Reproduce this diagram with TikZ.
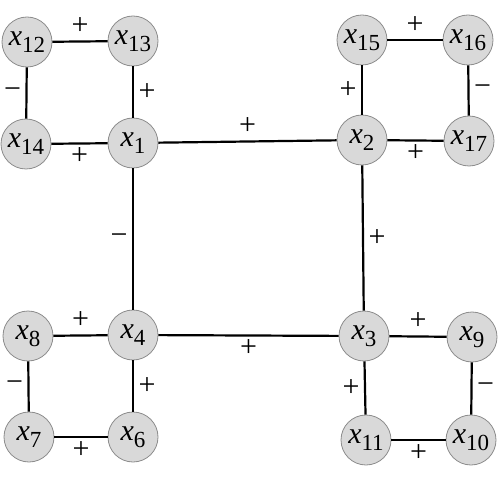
\documentclass[tikz,border=0pt]{standalone}
\usepackage{fontspec}
\setmainfont{Liberation Serif}
\definecolor{nodefill}{RGB}{217,217,217}
\definecolor{nodedraw}{RGB}{140,140,140}
\newcommand{\xv}[1]{\textit{x}\raisebox{-7pt}{\fontsize{23}{23}\selectfont #1}}
\tikzset{
  var/.style={circle, draw=nodedraw, line width=0.8pt, fill=nodefill, minimum size=50pt, inner sep=0pt, font=\fontsize{30}{30}\selectfont},
  link/.style={line width=2.2pt, black},
  lab/.style={font=\fontsize{30}{30}\selectfont, inner sep=0pt, midway},
  labA/.style={lab, yshift=15pt},
  labB/.style={lab, yshift=-13pt},
  labL/.style={lab, xshift=-14pt},
  labR/.style={lab, xshift=14pt}
}
\begin{document}
\begin{tikzpicture}[x=1pt, y=-1pt]
\useasboundingbox (0,0) rectangle (500,478);
% nodes
\node[var] (x12) at (27,42) {\xv{12}};
\node[var] (x13) at (133,41) {\xv{13}};
\node[var] (x14) at (26,144) {\xv{14}};
\node[var] (x1) at (133,143) {\xv{1}};
\node[var] (x15) at (362,40) {\xv{15}};
\node[var] (x16) at (468,40) {\xv{16}};
\node[var] (x2) at (362,140) {\xv{2}};
\node[var] (x17) at (469,141) {\xv{17}};
\node[var] (x8) at (28,336) {\xv{8}};
\node[var] (x4) at (133,335) {\xv{4}};
\node[var] (x7) at (29,437) {\xv{7}};
\node[var] (x6) at (133,437) {\xv{6}};
\node[var] (x3) at (364,336) {\xv{3}};
\node[var] (x9) at (472,337) {\xv{9}};
\node[var] (x11) at (366,440) {\xv{11}};
\node[var] (x10) at (471,440) {\xv{10}};
% top-left square
\draw[link] (x12) -- node[labA] (s1) {+} (x13);
\draw[link] (x12) -- node[labL] (s2) {−} (x14);
\draw[link] (x13) -- node[labR] (s3) {+} (x1);
\draw[link] (x14) -- node[labB] (s4) {+} (x1);
% central square
\draw[link] (x1) -- node[labA] (s5) {+} (x2);
\draw[link] (x1) -- node[labL] (s6) {−} (x4);
\draw[link] (x2) -- node[labR] (s7) {+} (x3);
\draw[link] (x4) -- node[labB] (s8) {+} (x3);
% top-right square
\draw[link] (x15) -- node[labA] (s9) {+} (x16);
\draw[link] (x15) -- node[labL] (s10) {+} (x2);
\draw[link] (x16) -- node[labR] (s11) {−} (x17);
\draw[link] (x2) -- node[labB] (s12) {+} (x17);
% bottom-left square
\draw[link] (x8) -- node[labA] (s13) {+} (x4);
\draw[link] (x8) -- node[labL] (s14) {−} (x7);
\draw[link] (x4) -- node[labR] (s15) {+} (x6);
\draw[link] (x7) -- node[labB] (s16) {+} (x6);
% bottom-right square
\draw[link] (x3) -- node[labA] (s17) {+} (x9);
\draw[link] (x3) -- node[labL] (s18) {+} (x11);
\draw[link] (x9) -- node[labR] (s19) {−} (x10);
\draw[link] (x11) -- node[labB] (s20) {+} (x10);
\end{tikzpicture}
\end{document}
